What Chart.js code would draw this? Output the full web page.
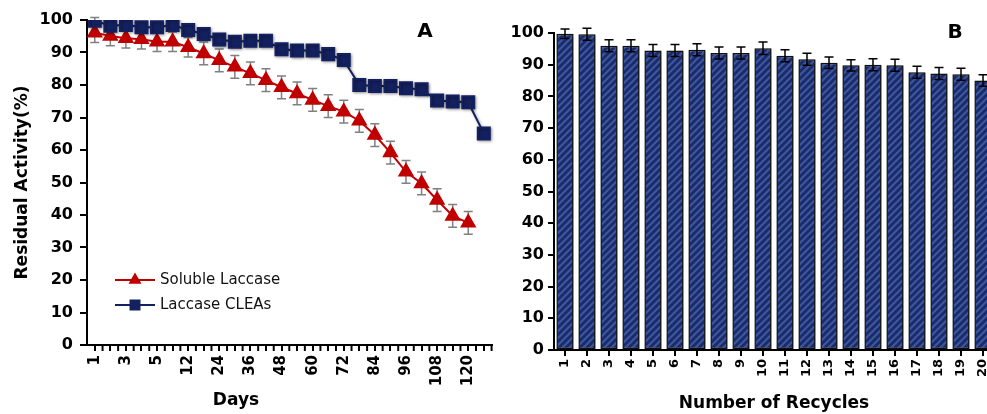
<!DOCTYPE html>
<html>
<head>
<meta charset="utf-8">
<script src="https://cdn.jsdelivr.net/npm/chart.js@4.4.0/dist/chart.umd.min.js"></script>
<style>
  html, body { margin: 0; padding: 0; background: #fff; overflow: hidden; }
  #wrap { position: relative; width: 987px; height: 414px; overflow: hidden; }
  #chartA { position: absolute; left: 0; top: 0; }
  #chartB { position: absolute; left: 490px; top: 0; }
</style>
</head>
<body>
<div id="wrap">
  <canvas id="chartA" width="506" height="414"></canvas>
  <canvas id="chartB" width="512" height="414"></canvas>
</div>
<script>
'use strict';
// panel A - storage stability
let dayLabels = ['1', '2', '3', '4', '5', '6', '12', '18', '24', '30', '36', '42', '48', '54', '60', '66', '72', '78', '84', '90', '96', '102', '108', '114', '120', '126'];
let solubleValues = [96.1, 95.1, 94.4, 94.1, 93.3, 93.3, 91.6, 89.7, 87.6, 85.6, 83.6, 81.5, 79.3, 77.4, 75.4, 73.5, 71.8, 69, 64.6, 59.2, 53.3, 49.7, 44.6, 39.7, 37.6, null];
let solubleErrors = [3, 3, 3, 3, 3, 3, 3, 3.5, 3.5, 3.5, 3.5, 3.5, 3.5, 3.5, 3.5, 3.5, 3.5, 3.5, 3.5, 3.5, 3.5, 3.5, 3.5, 3.5, 3.5, 0];
let cleaValues = [99.8, 98.2, 98.5, 97.8, 97.8, 98.5, 96.9, 95.7, 94, 93.3, 93.6, 93.6, 91, 90.6, 90.6, 89.5, 87.7, 80, 79.7, 79.7, 79, 78.7, 75.2, 74.9, 74.7, 65.1];
let cleaErrors = [1, 1, 1, 1, 1, 1, 1, 1, 1, 1, 1, 1, 1, 1, 1, 1, 1, 1, 1, 1, 1, 1, 1, 1, 1, 1];

// panel B - reusability
let recycleLabels = ['1', '2', '3', '4', '5', '6', '7', '8', '9', '10', '11', '12', '13', '14', '15', '16', '17', '18', '19', '20'];
let recycleValues = [99.8, 99.6, 96, 96, 94.5, 94.5, 94.7, 93.7, 93.7, 95.2, 92.8, 91.7, 90.6, 89.8, 90, 89.8, 87.6, 87.2, 87, 85];
let recycleErrors = [1.5, 1.9, 1.9, 1.9, 1.9, 1.9, 1.9, 1.9, 1.9, 2, 1.9, 1.9, 1.8, 1.8, 1.9, 1.9, 1.9, 1.9, 1.9, 1.8];

Chart.defaults.font.family = "'DejaVu Sans', sans-serif";
Chart.defaults.color = '#000';

let red = '#c00000';
let navy = '#142160';

let errorBars = {
  id: 'errorBars',
  draw(chart, opts) {
    let ctx = chart.ctx;
    let yScale = chart.scales.y;
    chart.data.datasets.forEach(function (ds, d) {
      if (!ds.errors) return;
      let meta = chart.getDatasetMeta(d);
      ctx.save();
      ctx.strokeStyle = ds.errorColor;
      ctx.lineWidth = 1.5;
      ds.data.forEach(function (v, i) {
        if (v === null || !ds.errors[i]) return;
        let x = meta.data[i].x;
        let top = yScale.getPixelForValue(v + ds.errors[i]);
        let bot = yScale.getPixelForValue(v - ds.errors[i]);
        ctx.beginPath();
        ctx.moveTo(x, top); ctx.lineTo(x, bot);
        ctx.moveTo(x - 4.5, top); ctx.lineTo(x + 4.5, top);
        ctx.moveTo(x - 4.5, bot); ctx.lineTo(x + 4.5, bot);
        ctx.stroke();
      });
      ctx.restore();
    });
  },
  beforeDatasetsDraw(chart, args, opts) {
    if (!opts.onTop) this.draw(chart, opts);
  },
  afterDatasetsDraw(chart, args, opts) {
    if (opts.onTop) this.draw(chart, opts);
  }
};

let shadows = {
  id: 'shadows',
  beforeDatasetDraw(chart, args) {
    let ds = chart.data.datasets[args.index];
    if (!ds.shadow) return;
    let ctx = chart.ctx;
    ctx.save();
    ctx.shadowColor = 'rgba(0,0,0,0.4)';
    ctx.shadowBlur = 3;
    ctx.shadowOffsetX = 1;
    ctx.shadowOffsetY = 1;
  },
  afterDatasetDraw(chart, args) {
    if (chart.data.datasets[args.index].shadow) chart.ctx.restore();
  }
};

let minorTicks = {
  id: 'minorTicks',
  afterDraw(chart, args, opts) {
    if (!opts.display) return;
    let ctx = chart.ctx;
    let xs = chart.scales.x;
    let half = (xs.getPixelForValue(1) - xs.getPixelForValue(0)) / 2;
    let y0 = chart.chartArea.bottom;
    ctx.save();
    ctx.strokeStyle = '#000';
    ctx.lineWidth = 2;
    for (let i = 1; i <= chart.data.labels.length; i++) {
      let px = xs.getPixelForValue(i) - half;
      ctx.beginPath();
      ctx.moveTo(px, y0);
      ctx.lineTo(px, y0 + 6);
      ctx.stroke();
    }
    ctx.restore();
  }
};

let innerLegend = {
  id: 'innerLegend',
  afterDraw(chart, args, opts) {
    if (!opts.display) return;
    let ctx = chart.ctx;
    let area = chart.chartArea;
    let x0 = area.left + 28;
    chart.data.datasets.forEach(function (ds, i) {
      let y = area.bottom - 65 + i * 25;
      ctx.save();
      ctx.strokeStyle = ds.borderColor;
      ctx.lineWidth = 2;
      ctx.beginPath();
      ctx.moveTo(x0, y);
      ctx.lineTo(x0 + 40, y);
      ctx.stroke();
      ctx.fillStyle = ds.pointBackgroundColor;
      let cx = x0 + 20;
      ctx.beginPath();
      if (ds.pointStyle === 'triangle') {
        ctx.moveTo(cx, y - 7.5);
        ctx.lineTo(cx + 6.5, y + 3.75);
        ctx.lineTo(cx - 6.5, y + 3.75);
        ctx.closePath();
      } else {
        ctx.rect(cx - 5.5, y - 5.5, 11, 11);
      }
      ctx.fill();
      ctx.fillStyle = '#111';
      ctx.font = '15px "DejaVu Sans"';
      ctx.textBaseline = 'middle';
      ctx.textAlign = 'left';
      ctx.fillText(ds.label, x0 + 45, y);
      ctx.restore();
    });
  }
};

let panelText = {
  id: 'panelText',
  afterDraw(chart, args, opts) {
    let ctx = chart.ctx;
    (opts.items || []).forEach(function (t) {
      ctx.save();
      ctx.font = 'bold ' + t.size + 'px "DejaVu Sans"';
      ctx.fillStyle = '#000';
      ctx.textAlign = 'center';
      ctx.textBaseline = 'middle';
      ctx.fillText(t.text, t.x, t.y);
      ctx.restore();
    });
  }
};

function stripes() {
  let c = document.createElement('canvas');
  c.width = 7;
  c.height = 7;
  let g = c.getContext('2d');
  g.fillStyle = '#1c2b68';
  g.fillRect(0, 0, 7, 7);
  g.strokeStyle = '#3b57a2';
  g.lineWidth = 2.2;
  g.beginPath();
  g.moveTo(-1, 8); g.lineTo(8, -1);
  g.moveTo(-1, 1); g.lineTo(1, -1);
  g.moveTo(6, 8); g.lineTo(8, 6);
  g.stroke();
  return g.createPattern(c, 'repeat');
}

let boldTick = function (size) { return { size: size, weight: 'bold' }; };

new Chart(document.getElementById('chartA'), {
  type: 'line',
  data: {
    labels: dayLabels,
    datasets: [{
      label: 'Soluble Laccase',
      data: solubleValues,
      errors: solubleErrors,
      errorColor: '#808080',
      borderColor: red,
      backgroundColor: red,
      pointBackgroundColor: red,
      pointBorderColor: red,
      pointStyle: 'triangle',
      pointRadius: 7.5,
      borderWidth: 2,
      tension: 0,
      order: 1
    }, {
      label: 'Laccase CLEAs',
      data: cleaValues,
      errors: cleaErrors,
      errorColor: '#808080',
      borderColor: navy,
      backgroundColor: navy,
      pointBackgroundColor: navy,
      pointBorderColor: navy,
      pointStyle: 'rect',
      pointRadius: 8.5,
      borderWidth: 2,
      tension: 0,
      shadow: true,
      order: 0
    }]
  },
  options: {
    responsive: false,
    animation: false,
    devicePixelRatio: 1,
    layout: { padding: { top: 20, right: 4, left: 0, bottom: 0 } },
    plugins: {
      legend: { display: false },
      tooltip: { enabled: false },
      errorBars: { onTop: false },
      minorTicks: { display: true },
      innerLegend: { display: true },
      panelText: { items: [{ text: 'A', x: 425, y: 32, size: 20 }, { text: 'Days', x: 236, y: 401, size: 17 }] }
    },
    scales: {
      x: {
        offset: true,
        grid: { display: true, drawOnChartArea: false, offset: false, tickLength: 6, color: '#000', lineWidth: 2 },
        border: { color: '#000', width: 2 },
        ticks: {
          autoSkip: false, maxRotation: 90, minRotation: 90, padding: 4,
          font: boldTick(15), color: '#000',
          callback: function (val, idx) { return idx % 2 === 0 ? this.getLabelForValue(val) : ''; }
        },
        afterFit: function (s) { s.height = 69; }
      },
      y: {
        min: 0, max: 100,
        ticks: { stepSize: 10, padding: 7, font: boldTick(16), color: '#000' },
        grid: { drawOnChartArea: false, tickLength: 7, color: '#000', lineWidth: 2 },
        border: { color: '#000', width: 2 },
        title: { display: true, text: 'Residual Activity(%)', font: boldTick(17), color: '#000', padding: { top: 12, bottom: 0 } },
        afterFit: function (s) { s.width = 87; }
      }
    }
  },
  plugins: [errorBars, shadows, minorTicks, innerLegend, panelText]
});

new Chart(document.getElementById('chartB'), {
  type: 'bar',
  data: {
    labels: recycleLabels,
    datasets: [{
      label: 'Residual Activity',
      data: recycleValues,
      errors: recycleErrors,
      errorColor: '#000',
      backgroundColor: stripes(),
      borderColor: '#111',
      borderWidth: 1.5,
      borderSkipped: false,
      barPercentage: 0.78,
      categoryPercentage: 1,
      shadow: true
    }]
  },
  options: {
    responsive: false,
    animation: false,
    devicePixelRatio: 1,
    layout: { padding: { top: 33, right: 8, left: 0, bottom: 0 } },
    plugins: {
      legend: { display: false },
      tooltip: { enabled: false },
      errorBars: { onTop: true },
      minorTicks: { display: false },
      innerLegend: { display: false },
      panelText: { items: [{ text: 'B', x: 465, y: 33, size: 20 }] }
    },
    scales: {
      x: {
        grid: { display: true, drawOnChartArea: false, offset: false, tickLength: 6, color: '#000', lineWidth: 2 },
        border: { color: '#000', width: 2 },
        ticks: { autoSkip: false, maxRotation: 90, minRotation: 90, padding: 3, font: boldTick(13), color: '#000' },
        title: { display: true, text: 'Number of Recycles', font: boldTick(17), color: '#000', padding: { top: 0, bottom: 0 } },
        afterFit: function (s) { s.height = 64; }
      },
      y: {
        min: 0, max: 100,
        ticks: { stepSize: 10, padding: 4, font: boldTick(16), color: '#000' },
        grid: { drawOnChartArea: false, tickLength: 6, color: '#000', lineWidth: 2 },
        border: { color: '#000', width: 2 },
        afterFit: function (s) { s.width = 64; }
      }
    }
  },
  plugins: [errorBars, shadows, panelText]
});
</script>
</body>
</html>
